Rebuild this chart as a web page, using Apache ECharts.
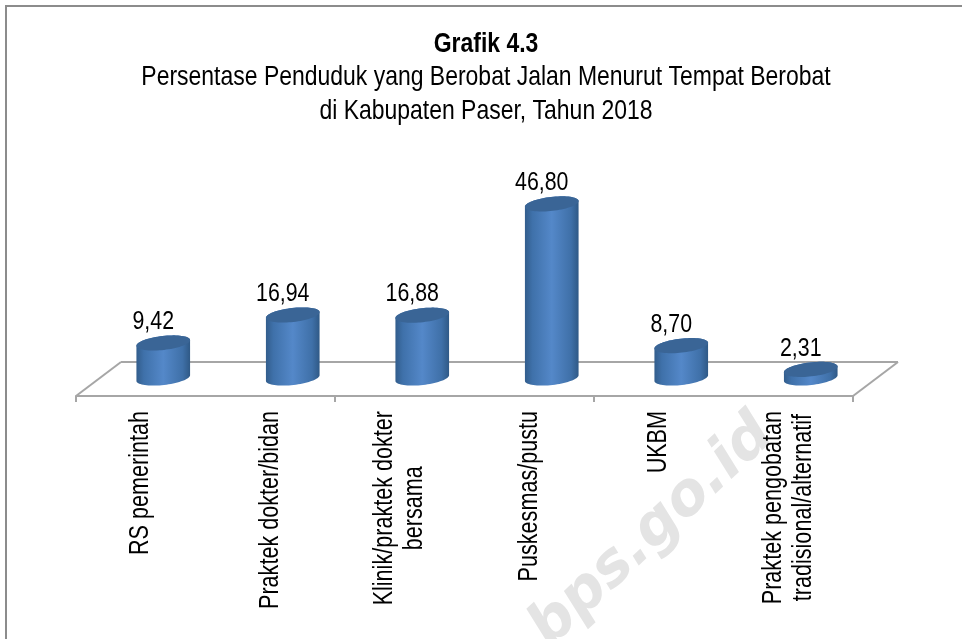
<!DOCTYPE html>
<html><head><meta charset="utf-8">
<style>html,body{margin:0;padding:0;background:#fff}#c{width:962px;height:639px}</style>
<script src="https://cdn.jsdelivr.net/npm/echarts@6/dist/echarts.min.js"></script>
</head><body><div id="c"></div>
<script>
const categories = ['RS pemerintah','Praktek dokter/bidan','Klinik/praktek dokter\nbersama','Puskesmas/pustu','UKBM','Praktek pengobatan\ntradisional/alternatif'];
const values = [9.42,16.94,16.88,46.80,8.70,2.31];
const titleLine = 'Grafik 4.3';
const subtitleLines = ['Persentase Penduduk yang Berobat Jalan Menurut Tempat Berobat','di Kabupaten Paser, Tahun 2018'];
const watermark = 'bps.go.id';
const FONT = '"Liberation Sans",Arial,sans-serif';
const SQUEEZE = 0.82, TITLE_SQUEEZE = 0.835, AXIS_SQUEEZE = 0.785;
const DEPTH_X = 22.5, FRONT_Y = 18, BACK_Y = 16, RX = 27, RY = 7, TILT = -6.5 * Math.PI / 180;
const LABEL_FONT = '27.5px ' + FONT, LABEL_GAP = 30;
const measureCtx = document.createElement('canvas').getContext('2d');

function ell(cx, cy, from, to, n) {
  const pts = [];
  for (let i = 0; i <= n; i++) {
    const a = from + (to - from) * i / n;
    const x = RX * Math.cos(a), y = RY * Math.sin(a);
    pts.push([cx + x * Math.cos(TILT) - y * Math.sin(TILT), cy + x * Math.sin(TILT) + y * Math.cos(TILT)]);
  }
  return pts;
}
function renderBar(params, api) {
  const i = api.value(0), v = api.value(1);
  const base = api.coord([i, 0]), top = api.coord([i, v]);
  const cx = base[0] + DEPTH_X, by = base[1], ty = top[1];
  const body = ell(cx, by, 0, Math.PI, 36).concat(ell(cx, ty, Math.PI, 2 * Math.PI, 36));
  return { type: 'group', children: [
    { type: 'polygon', shape: { points: body }, style: { fill: new echarts.graphic.LinearGradient(0,0,1,0,[
      {offset:0,color:'#325d8c'},{offset:.14,color:'#3f71aa'},{offset:.5,color:'#5488c9'},{offset:.86,color:'#3f70a8'},{offset:1,color:'#2f5986'}]) } },
    { type: 'polygon', shape: { points: ell(cx, ty, 0, 2 * Math.PI, 72) }, style: { fill: '#3a6596' } },
    { type: 'text', x: cx - 10, y: ty - 8, scaleX: SQUEEZE, style: { text: v.toFixed(2).replace('.', ','), font: '26px ' + FONT, fill: '#000', align: 'center', verticalAlign: 'bottom' } }
  ]};
}
function renderCategoryLabel(params, api) {
  const i = api.value(0);
  const base = api.coord([i, 0]);
  const lines = categories[i].split('\n');
  measureCtx.font = LABEL_FONT;
  const widest = Math.max(...lines.map(t => measureCtx.measureText(t).width)) * AXIS_SQUEEZE;
  const top = base[1] + FRONT_Y + 15;
  const children = lines.map((t, k) => ({
    type: 'text', x: base[0] + (k - (lines.length - 1) / 2) * LABEL_GAP, y: top + widest / 2,
    rotation: Math.PI / 2, scaleX: AXIS_SQUEEZE,
    style: { text: t, font: LABEL_FONT, fill: '#000', align: 'center', verticalAlign: 'middle' }
  }));
  return { type: 'group', children };
}
function renderFloor(params, api) {
  const g = params.coordSys, by = g.y + g.height, fy = by + FRONT_Y, ty = by - BACK_Y;
  const line = (a, b, c, d) => ({ type: 'line', shape: { x1: a, y1: b, x2: c, y2: d }, style: { stroke: '#a6a6a6', lineWidth: 2 } });
  const l = g.x, r = g.x + g.width;
  return { type: 'group', children: [ line(l, fy, l + 2 * DEPTH_X, ty), line(l + 2 * DEPTH_X, ty, r + 2 * DEPTH_X, ty), line(r, fy, r + 2 * DEPTH_X, ty) ] };
}
const titleText = (t, y, weight) => ({ type: 'text', x: 486, y, scaleX: TITLE_SQUEEZE, style: { text: t, font: weight + ' 27.5px ' + FONT, fill: '#000', align: 'center', verticalAlign: 'bottom' } });
const chart = echarts.init(document.getElementById('c'), null, { renderer: 'canvas' });
chart.setOption({
  animation: false,
  backgroundColor: '#fff',
  grid: { left: 76, width: 777, top: 192, height: 186, outerBoundsMode: 'none' },
  xAxis: { type: 'category', data: categories, offset: FRONT_Y,
    axisLine: { show: true, onZero: false, lineStyle: { color: '#a6a6a6', width: 2 } },
    axisTick: { show: true, length: 6, alignWithLabel: false, lineStyle: { color: '#a6a6a6', width: 2 } },
    axisLabel: { show: false } },
  yAxis: { type: 'value', min: 0, max: 50, show: false },
  graphic: [
    { type: 'text', z: -1, x: 652, y: 532, rotation: 43 * Math.PI / 180, style: { text: watermark, font: 'italic bold 59px "DejaVu Sans",sans-serif', fill: '#e4e4e4', align: 'center', verticalAlign: 'middle' } },
    { type: 'line', shape: { x1: 6, y1: 639, x2: 6, y2: 6 }, style: { stroke: '#8c8c8c', lineWidth: 2 } },
    { type: 'line', shape: { x1: 5, y1: 6, x2: 962, y2: 6 }, style: { stroke: '#8c8c8c', lineWidth: 2 } },
    titleText(titleLine, 58, 'bold'),
    titleText(subtitleLines[0], 91, 'normal'),
    titleText(subtitleLines[1], 125, 'normal')
  ],
  series: [
    { type: 'custom', data: [0], renderItem: renderFloor, z: 1, silent: true },
    { type: 'custom', data: categories.map((c, i) => [i, 0]), renderItem: renderCategoryLabel, z: 1, silent: true, encode: { x: 0, y: 1 } },
    { type: 'custom', data: values.map((v, i) => [i, v]), renderItem: renderBar, z: 2, encode: { x: 0, y: 1 } }
  ]
});
</script></body></html>
